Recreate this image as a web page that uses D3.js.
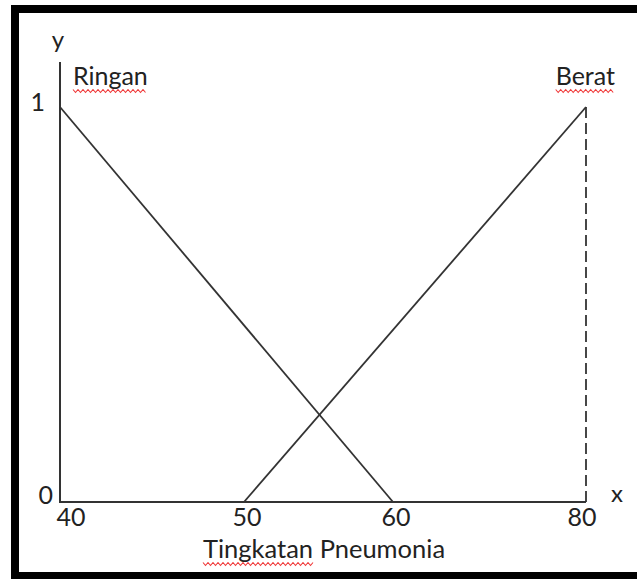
<!DOCTYPE html>
<html>
<head>
<meta charset="utf-8">
<script src="https://cdn.jsdelivr.net/npm/d3@7"></script>
<style>
  html, body { margin: 0; padding: 0; background: #fff; }
  text { font-family: Lato, "Open Sans", sans-serif; fill: #222; }
</style>
</head>
<body>
<svg id="chart" width="637" height="579"></svg>
<script>
// data
const xTicks = [40, 50, 60, 80];
const yTicks = [0, 1];
const ringan = [[40, 1], [60, 0]];
const berat = [[50, 0], [80, 1]];
const beratGuide = [[80, 1], [80, 0]];
const setLabels = [
  { name: 'Ringan', x: 40, y: 1, anchor: 'start', spell: true },
  { name: 'Berat', x: 80, y: 1, anchor: 'end', spell: true }
];
const xTitle = ['Tingkatan', 'Pneumonia'];

const svg = d3.select('#chart');

// frame round the picture
svg.append('rect')
  .attr('x', 15).attr('y', 9)
  .attr('width', 700).attr('height', 567)
  .attr('fill', 'white')
  .attr('stroke', 'black')
  .attr('stroke-width', 8);

// the drawing is not to scale, so the x scale is piecewise
const x = d3.scaleLinear().domain(xTicks).range([60, 244, 393, 586]);
const y = d3.scaleLinear().domain([0, 1]).range([502, 107]);

const g = svg.append('g');

// axes
g.append('path')
  .attr('d', d3.line()([[x(40), 62], [x(40), y(0)], [x(80), y(0)]]))
  .attr('fill', 'none')
  .attr('stroke', '#333')
  .attr('stroke-width', 2);

const line = d3.line().x(d => x(d[0])).y(d => y(d[1]));

g.append('path')
  .datum(ringan)
  .attr('d', line)
  .attr('fill', 'none')
  .attr('stroke', '#333')
  .attr('stroke-width', 1.8);

g.append('path')
  .datum(berat)
  .attr('d', line)
  .attr('fill', 'none')
  .attr('stroke', '#333')
  .attr('stroke-width', 1.8);

g.append('path')
  .datum(beratGuide)
  .attr('d', line)
  .attr('fill', 'none')
  .attr('stroke', '#333')
  .attr('stroke-width', 1.8)
  .attr('stroke-dasharray', '11,5');

// tick labels
g.selectAll('.xtick')
  .data(xTicks)
  .join('text')
  .attr('class', 'xtick')
  .attr('x', d => x(d) + (d === 40 ? 11 : d === 80 ? -4 : 3))
  .attr('y', 526)
  .attr('text-anchor', 'middle')
  .attr('font-size', 25)
  .text(d => d);

g.selectAll('.ytick')
  .data(yTicks)
  .join('text')
  .attr('class', 'ytick')
  .attr('x', d => x(40) - (d === 0 ? 7 : 15))
  .attr('y', d => y(d) + (d === 0 ? -7 : -5))
  .attr('dy', '0.35em')
  .attr('text-anchor', 'end')
  .attr('font-size', 25)
  .text(d => d);

g.append('text')
  .attr('x', x(40) - 2).attr('y', 48)
  .attr('text-anchor', 'middle')
  .attr('font-size', 24)
  .text('y');

g.append('text')
  .attr('x', 617).attr('y', 502)
  .attr('text-anchor', 'middle')
  .attr('font-size', 24)
  .text('x');

// red spell-check squiggle under a word
function squiggle(x0, x1, yy) {
  const pts = [];
  for (let px = x0, k = 0; px <= x1; px += 2.5, k++) pts.push([px, yy + (k % 2 ? 1.5 : -1.5)]);
  g.append('path')
    .attr('d', d3.line()(pts))
    .attr('fill', 'none')
    .attr('stroke', '#f03a3a')
    .attr('stroke-width', 1.1);
}

setLabels.forEach(d => {
  const t = g.append('text')
    .attr('x', d.anchor === 'start' ? 73 : 615)
    .attr('y', 85)
    .attr('text-anchor', d.anchor)
    .attr('font-size', 25)
    .text(d.name);
  const b = t.node().getBBox();
  if (d.spell) squiggle(b.x, b.x + b.width, 91);
});

const title = g.append('text')
  .attr('x', 203).attr('y', 558)
  .attr('font-size', 25.5);
const first = title.append('tspan').text(xTitle[0]);
title.append('tspan').text(' ' + xTitle[1]);
const w0 = first.node().getComputedTextLength();
squiggle(203, 203 + w0, 564);
</script>
</body>
</html>
